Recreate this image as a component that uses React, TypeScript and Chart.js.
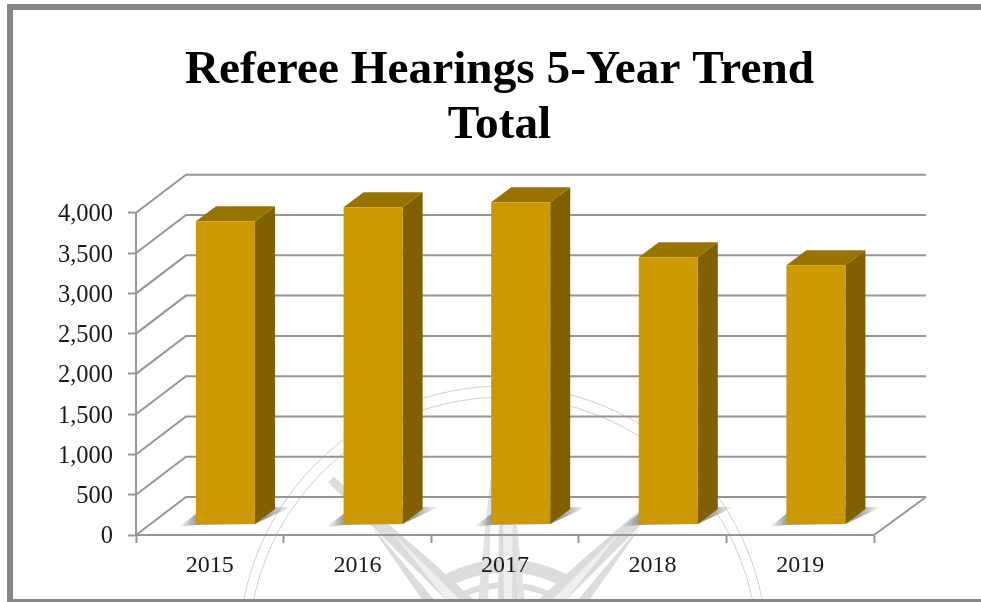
import React, { useEffect, useRef } from "react";
import { Chart, registerables } from "chart.js";

Chart.register(...registerables);

const categories = ["2015", "2016", "2017", "2018", "2019"];
const hearings = [3764, 3938, 4000, 3317, 3217];
const titleLines = ["Referee Hearings 5-Year Trend", "Total"];

const FONT = "'Liberation Serif', serif";
const GRID = "#969696";
const FRONT = "#CC9900";
const TOP = "#997300";
const SIDE = "#806000";
// 3D projection offsets
const WALL_DX = 50;
const WALL_DY = -38;
const BAR_SHIFT_X = 15.7;
const BAR_SHIFT_Y = -10.5;
const DEPTH_X = 20;
const DEPTH_Y = -15;
const Y_LABEL_NUDGE = 2;

function poly(ctx: CanvasRenderingContext2D, pts: number[][], fill: string | CanvasGradient) {
  ctx.beginPath();
  pts.forEach((p, i) => (i ? ctx.lineTo(p[0], p[1]) : ctx.moveTo(p[0], p[1])));
  ctx.closePath();
  ctx.fillStyle = fill;
  ctx.fill();
}

function drawWatermark(ctx: CanvasRenderingContext2D) {
  ctx.save();
  ctx.beginPath();
  ctx.rect(0, 0, 981, 602);
  ctx.clip();
  const cx = 506;
  ctx.strokeStyle = "#c4c4c4";
  ctx.lineWidth = 0.8;
  ctx.beginPath();
  ctx.arc(503, 650, 264, 0, Math.PI * 2);
  ctx.stroke();
  ctx.beginPath();
  ctx.arc(503, 652, 255, 0, Math.PI * 2);
  ctx.stroke();
  // compass rings
  ctx.strokeStyle = "#dcdcdc";
  ctx.lineWidth = 13;
  ctx.beginPath();
  ctx.arc(cx, 690, 124, -Math.PI / 2 - 0.5, -Math.PI / 2 + 0.5);
  ctx.stroke();
  ctx.lineWidth = 6;
  ctx.beginPath();
  ctx.arc(cx, 690, 105, -Math.PI / 2 - 0.45, -Math.PI / 2 + 0.45);
  ctx.stroke();
  // diagonal rays (mirrored round the compass axis)
  [1, -1].forEach((s) => {
    const m = (x: number) => cx + s * (x - cx);
    poly(ctx, [[m(328), 482], [m(334), 477], [m(430), 560], [m(476), 602], [m(448), 602]], "#dcdcdc");
    poly(ctx, [[m(390), 530], [m(448), 602], [m(462), 602]], "#efefef");
    poly(ctx, [[m(372), 528], [m(382), 538], [m(436), 602], [m(424), 602]], "#dcdcdc");
  });
  // vertical rays
  poly(ctx, [[499, 525], [517, 525], [518, 602], [498, 602]], "#dcdcdc");
  poly(ctx, [[503, 525], [513, 525], [512, 602], [504, 602]], "#efefef");
  poly(ctx, [[490, 480], [492, 480], [488, 602], [478, 602]], "#e2e2e2");
  poly(ctx, [[513, 527], [517, 527], [525, 602], [519, 602]], "#e2e2e2");
  ctx.restore();
}

const scene = {
  id: "scene",
  afterLayout(chart: any) {
    // the title is centred on the frame's inner width
    chart.titleBlock.left = 18;
    chart.titleBlock.right = 981;
  },
  beforeDraw(chart: any) {
    const { ctx } = chart;
    ctx.save();
    ctx.fillStyle = "#ffffff";
    ctx.fillRect(0, 0, chart.width, chart.height);
    drawWatermark(ctx);
    // picture frame
    ctx.fillStyle = "#868686";
    ctx.fillRect(7, 4, 974, 6);
    ctx.fillRect(7, 4, 6, 598);
    ctx.fillRect(7, 599, 974, 3);
    ctx.restore();
    // value labels sit slightly below their tick marks
    const items = chart.scales.y.getLabelItems();
    items.forEach((it: any) => {
      if (!it.nudged) {
        it.options.translation = [it.options.translation[0], it.options.translation[1] + Y_LABEL_NUDGE];
        it.nudged = true;
      }
    });
  },
  beforeDatasetsDraw(chart: any) {
    const { ctx, chartArea, scales } = chart;
    const yS = scales.y;
    const L = chartArea.left;
    const R = chartArea.right;
    ctx.save();
    ctx.strokeStyle = GRID;
    ctx.lineWidth = 2;
    yS.ticks.forEach((t: any) => {
      const y = yS.getPixelForValue(t.value);
      ctx.beginPath();
      ctx.moveTo(L, y);
      ctx.lineTo(L + WALL_DX, y + WALL_DY);
      ctx.lineTo(R + WALL_DX + 2, y + WALL_DY);
      ctx.stroke();
    });
    const base = yS.getPixelForValue(0);
    ctx.beginPath();
    ctx.moveTo(R + WALL_DX + 2, base + WALL_DY);
    ctx.lineTo(R, base);
    ctx.stroke();

    // contact shadows and 3D faces, taken from the bar elements
    const meta = chart.getDatasetMeta(0);
    meta.data.forEach((bar: any) => {
      const left = bar.x - bar.width / 2 + BAR_SHIFT_X;
      const right = left + bar.width;
      const b = bar.base + BAR_SHIFT_Y;
      const x0 = left - 17;
      const x1 = right + 36;
      const g = ctx.createLinearGradient(x0, 0, x1, 0);
      const span = x1 - x0;
      g.addColorStop(0, "rgba(140,140,140,0)");
      g.addColorStop(17 / span, "rgba(140,140,140,0.85)");
      g.addColorStop((right + 12 - x0) / span, "rgba(140,140,140,0.85)");
      g.addColorStop(1, "rgba(140,140,140,0)");
      poly(ctx, [[x0, b + 3], [x0 + 26, b - 17], [x1, b - 17], [right, b], [left, b + 1]], g);
    });
    meta.data.forEach((bar: any) => {
      const left = bar.x - bar.width / 2 + BAR_SHIFT_X;
      const right = left + bar.width;
      const top = bar.y + BAR_SHIFT_Y;
      const b = bar.base + BAR_SHIFT_Y;
      poly(ctx, [[right, top], [right + DEPTH_X, top + DEPTH_Y], [right + DEPTH_X, b + DEPTH_Y], [right, b]], SIDE);
      poly(ctx, [[left, top], [left + DEPTH_X, top + DEPTH_Y], [right + DEPTH_X, top + DEPTH_Y], [right, top]], TOP);
    });
    ctx.restore();
  },
  beforeDatasetDraw(chart: any) {
    chart.ctx.save();
    chart.ctx.translate(BAR_SHIFT_X, BAR_SHIFT_Y);
  },
  afterDatasetDraw(chart: any) {
    chart.ctx.restore();
  },
};

export default function App() {
  const ref = useRef<HTMLCanvasElement>(null);
  useEffect(() => {
    const chart = new Chart(ref.current!, {
      type: "bar",
      data: {
        labels: categories,
        datasets: [
          {
            data: hearings,
            backgroundColor: FRONT,
            borderColor: "#a88000",
            borderWidth: { top: 0, left: 0, right: 0, bottom: 1 },
            categoryPercentage: 0.4,
            barPercentage: 1,
            clip: false,
          } as any,
        ],
      },
      options: {
        responsive: false,
        animation: false,
        layout: { padding: { left: 0, right: 107, top: 0, bottom: 0 } },
        plugins: {
          legend: { display: false },
          tooltip: { enabled: false },
          title: {
            display: true,
            text: titleLines,
            color: "#000000",
            font: { family: FONT, size: 47.3, weight: "bold", lineHeight: 1.15 },
            padding: { top: 44, bottom: 60 },
          },
        },
        scales: {
          x: {
            afterFit: (s: any) => {
              s.height = 67;
            },
            border: { color: GRID, width: 2 },
            grid: { drawOnChartArea: false, color: GRID, tickLength: 8, tickWidth: 2 },
            ticks: { color: "#1a1a1a", font: { family: FONT, size: 24 }, padding: 8, maxRotation: 0 },
          },
          y: {
            min: 0,
            max: 4000,
            afterFit: (s: any) => {
              s.width = 136;
            },
            border: { color: GRID, width: 2 },
            grid: { drawOnChartArea: false, color: GRID, tickLength: 8, tickWidth: 2 },
            ticks: {
              stepSize: 500,
              color: "#1a1a1a",
              font: { family: FONT, size: 24.5 },
              padding: 15,
              callback: (v: any) => Number(v).toLocaleString("en-US"),
            },
          },
        },
      },
      plugins: [scene],
    } as any);
    return () => chart.destroy();
  }, []);
  return (
    <div style={{ position: "absolute", left: 0, top: 0, width: 981, height: 602 }}>
      <canvas ref={ref} width={981} height={602} style={{ display: "block" }} />
    </div>
  );
}
